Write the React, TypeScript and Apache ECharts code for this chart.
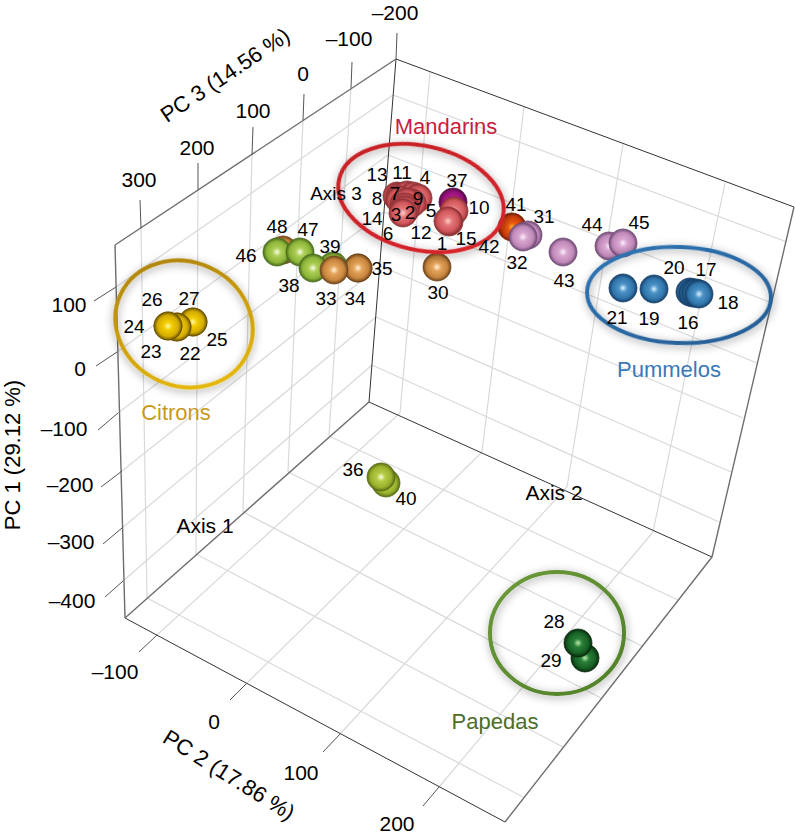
import React, { useEffect, useRef } from "react";
import * as echarts from "echarts";

const FONT = "Liberation Sans";

// ---- plane: x and y axes cover the 3D view's projection
const planeWidth = 795;
const planeHeight = 836;

// ---- samples, in draw order (back first)
const sampleIds = [37, 10, 15, 1, 13, 7, 11, 4, 9, 8, 14, 5, 12, 6, 2, 3, 41, 31, 32, 43, 44, 45, 21, 19, 20, 17, 16, 18, 35, 34, 48, 46, 47, 39, 38, 33, 30, 27, 25, 26, 22, 24, 23, 40, 36, 29, 28];
const sampleX = [453, 454, 449, 448, 397, 400, 407, 413, 418, 400, 404, 412, 407, 405, 405, 403, 512, 528, 523, 563, 609, 623, 623, 654, 690, 693, 696, 699, 358, 358, 283, 277, 300, 333, 313, 334, 437, 193, 193, 177, 177, 168, 168, 386, 381, 585, 578];
const sampleY = [202, 211, 222, 221, 196, 197, 195, 196, 198, 200, 204, 203, 202, 207, 210, 213, 227, 235, 237, 252, 246, 243, 288, 289, 292, 293, 293, 294, 268, 268, 250, 252, 252, 266, 268, 270, 267, 322, 322, 327, 327, 326, 326, 483, 477, 658, 643];
const sampleGroup = ["magenta", "mandarin", "mandarin", "mandarin", "mandarin", "mandarin", "mandarin", "mandarin", "mandarin", "mandarin", "mandarin", "mandarin", "mandarin", "mandarin", "mandarin", "mandarin", "red", "mauve", "mauve", "mauve", "mauve", "mauve", "blue", "blue", "blue", "blue", "blue", "blue", "orange", "orange", "orange", "green", "green", "green", "green", "orange", "orange", "yellow", "yellow", "yellow", "yellow", "yellow", "yellow", "lime", "lime", "dark", "dark"];

// ---- sample numbers, where they are printed
const numberTexts = ["13", "11", "4", "37", "7", "8", "9", "3", "2", "5", "10", "14", "6", "12", "1", "15", "42", "41", "31", "32", "30", "35", "39", "48", "47", "46", "38", "33", "34", "26", "27", "24", "23", "22", "25", "43", "44", "45", "20", "17", "18", "16", "19", "21", "28", "29", "36", "40"];
const numberX = [377, 402, 425, 457, 395, 377, 418, 396, 410, 431, 479, 372, 388, 421, 442, 466, 489, 516, 544, 517, 438, 382, 330, 277, 308, 246, 289, 326, 355, 152, 189, 134, 151, 190, 217, 564, 592, 639, 674, 706, 728, 688, 649, 617, 554, 551, 353, 406];
const numberY = [174, 172, 177, 180, 193, 198, 198, 214, 212, 210, 207, 218, 233, 232, 243, 238, 246, 204, 216, 262, 292, 268, 246, 226, 229, 255, 285, 298, 298, 299, 298, 326, 351, 353, 339, 280, 224, 222, 267, 269, 302, 322, 318, 317, 621, 660, 469, 498];

// ---- axis tick labels
const pc1Ticks = ["100", "0", "–100", "–200", "–300", "–400"];
const pc1TickX = [69, 80, 64, 70, 71, 72];
const pc1TickY = [304, 368, 428, 484, 541, 600];
const pc2Ticks = ["–100", "0", "100", "200"];
const pc2TickX = [115, 214, 301, 397];
const pc2TickY = [671, 721, 772, 823];
const pc3Ticks = ["300", "200", "100", "0", "–100", "–200"];
const pc3TickX = [139, 197, 253, 303, 349, 395];
const pc3TickY = [179, 147, 110, 73, 38, 12];

// ---- box corners and outline
const boxOutlineDark = [
  [396, 59, 794, 207], [505, 822, 125, 618], [396, 59, 369, 402], [369, 402, 712, 557],
];
const boxOutlineGrey = [
  [115, 245, 396, 59], [794, 207, 712, 557], [712, 557, 505, 822], [125, 618, 115, 245], [369, 402, 125, 618],
];
// ---- tick marks outside the box
const tickMarks = [
  [94, 301, 116, 287], [96, 366, 117, 352], [98, 430, 118, 413], [101, 487, 122, 471], [103, 544, 122, 528], [105, 597, 123, 581],
  [139, 652, 157, 635], [230, 700, 247, 683], [323, 752, 341, 733], [423, 806, 439, 787],
  [140, 200, 141, 228], [198, 163, 198, 190], [253, 127, 252, 155], [304, 94, 303, 120], [352, 62, 351, 88], [397, 33, 396, 59],
];
// ---- grid on the two walls and the floor
const gridLines = [
  // PC 3 on the left wall
  [141, 228, 147, 598], [198, 190, 196, 554], [252, 155, 243, 512], [303, 120, 288, 472], [351, 88, 329, 436],
  // PC 1 on the left wall
  [116, 287, 393, 95], [117, 352, 388, 155], [118, 413, 384, 212], [122, 471, 380, 266], [122, 528, 376, 317], [123, 581, 372, 365],
  // PC 1 on the right wall
  [393, 95, 787, 242], [388, 155, 772, 303], [384, 212, 757, 363], [380, 266, 743, 418], [376, 317, 731, 472], [372, 365, 719, 522],
  // PC 2 on the right wall
  [430, 72, 400, 413], [524, 107, 482, 452], [623, 144, 567, 487], [725, 183, 653, 532],
  // PC 2 on the floor
  [157, 635, 400, 413], [247, 683, 482, 452], [341, 733, 567, 487], [439, 787, 653, 532],
  // PC 3 on the floor
  [147, 598, 523, 797], [196, 554, 563, 747], [243, 512, 601, 698], [288, 472, 642, 646], [329, 436, 678, 600],
];

// ---- group ellipses: cx, cy, rx, ry, tilt in degrees
const groupNames = ["Mandarins", "Citrons", "Pummelos", "Papedas"];
const groupNameX = [446, 176, 669, 495];
const groupNameY = [126, 412, 369, 721];
const groupEllipses = [
  [421, 198, 84, 52, 13],
  [184, 324, 70, 62, 25],
  [679, 295, 92, 48, 2],
  [557, 633, 67, 61, 0],
];

const groupTextColors = ["#c8203c", "#c89a1a", "#3a78b8", "#4d6e2a"];
const ringColors = [
  ["#c41f26", "#d8262c"],
  ["#a87c10", "#eec208"],
  ["#2f76b4", "#265c92"],
  ["#6c9a3a", "#4f7f28"],
];

const ballPalette: Record<string, string[]> = {
  mandarin: ["#fbd0c8", "#e4777a", "#d0565b", "#8e3236"],
  magenta: ["#e050b0", "#b42090", "#940f78", "#4e0a40"],
  red: ["#ffb020", "#ee5a10", "#cc3c08", "#762004"],
  mauve: ["#fbf0fa", "#d8a6d0", "#bf88b8", "#6e4a74"],
  blue: ["#d8f2fc", "#4c92c6", "#2f74aa", "#163f68"],
  orange: ["#fff4dc", "#e4a45c", "#c6843c", "#6e441c"],
  green: ["#fbfce8", "#accf56", "#8cb438", "#466a1c"],
  lime: ["#fdfde2", "#b4cc44", "#98b02c", "#566c14"],
  yellow: ["#fffaa0", "#f2cc00", "#d4ac00", "#6e5600"],
  dark: ["#b8eca8", "#2a8038", "#166024", "#08280c"],
};

function ball(group: string) {
  const [a, b, c, d] = ballPalette[group];
  return {
    color: {
      type: "radial", x: 0.5, y: 0.5, r: 0.5,
      colorStops: [
        { offset: 0, color: a }, { offset: 0.3, color: b },
        { offset: 0.75, color: c }, { offset: 1, color: d },
      ],
    },
    borderColor: d,
    borderWidth: 0.8,
    opacity: 1,
  };
}

function label(text: string, x: number, y: number, fontSize: number, color = "#000", rotate = 0) {
  return {
    value: [x, y],
    itemStyle: { color: "transparent", opacity: 1 },
    label: { show: true, position: "inside", formatter: text, fontSize, color, rotate, opacity: 1, fontFamily: FONT, align: "center", verticalAlign: "middle" },
  };
}

function segmentSeries(rows: number[][], color: string, width: number, z: number) {
  return {
    type: "custom", coordinateSystem: "cartesian2d", silent: true, z,
    data: rows,
    encode: { x: [0, 2], y: [1, 3] },
    renderItem: (_: any, api: any) => {
      const p = api.coord([api.value(0), api.value(1)]);
      const q = api.coord([api.value(2), api.value(3)]);
      return { type: "line", shape: { x1: p[0], y1: p[1], x2: q[0], y2: q[1] }, style: { stroke: color, lineWidth: width, fill: null } };
    },
  };
}

export default function App() {
  const ref = useRef<HTMLDivElement>(null);
  useEffect(() => {
    document.body.style.margin = "0";
    const chart = echarts.init(ref.current!, undefined, { renderer: "svg" });
    const texts = [
      ...numberTexts.map((t, i) => label(t, numberX[i], numberY[i], 19)),
      ...pc1Ticks.map((t, i) => label(t, pc1TickX[i], pc1TickY[i], 21)),
      ...pc2Ticks.map((t, i) => label(t, pc2TickX[i], pc2TickY[i], 21)),
      ...pc3Ticks.map((t, i) => label(t, pc3TickX[i], pc3TickY[i], 21)),
      ...groupNames.map((t, i) => label(t, groupNameX[i], groupNameY[i], 22, groupTextColors[i])),
      label("Axis 1", 205, 525, 21), label("Axis 2", 554, 492, 21), label("Axis 3", 336, 193, 19),
      label("PC 1 (29.12 %)", 12, 455, 22, "#000", 90),
      label("PC 2 (17.86 %)", 229, 775, 22, "#000", -32),
      label("PC 3 (14.56 %)", 225, 75, 22, "#000", 34),
    ];
    chart.setOption({
      animation: false,
      backgroundColor: "#fff",
      tooltip: { show: false },
      grid: { left: 0, right: 0, top: 0, bottom: 0 },
      xAxis: { type: "value", min: 0, max: planeWidth, show: false },
      yAxis: { type: "value", min: 0, max: planeHeight, inverse: true, show: false },
      series: [
        segmentSeries(gridLines, "#d9d9d9", 1.2, 1),
        segmentSeries(boxOutlineDark, "#333", 1, 2),
        segmentSeries(boxOutlineGrey, "#6e6e6e", 1.4, 2),
        segmentSeries(tickMarks, "#555", 1, 2),
        {
          type: "scatter", z: 3, silent: true, symbolSize: 28,
          data: sampleIds.map((id, i) => ({ name: String(id), value: [sampleX[i], sampleY[i]], itemStyle: ball(sampleGroup[i]) })),
        },
        {
          type: "custom", coordinateSystem: "cartesian2d", silent: true, z: 4,
          data: groupEllipses,
          encode: { x: 0, y: 1 },
          renderItem: (p: any, api: any) => {
            const c = api.coord([api.value(0), api.value(1)]);
            const colors = ringColors[p.dataIndex];
            return {
              type: "ellipse",
              x: c[0], y: c[1],
              rotation: (-api.value(4) * Math.PI) / 180,
              shape: { cx: 0, cy: 0, rx: api.value(2), ry: api.value(3) },
              style: {
                fill: null, lineWidth: 4,
                stroke: new echarts.graphic.LinearGradient(0, 0, 1, 1, [{ offset: 0, color: colors[0] }, { offset: 1, color: colors[1] }]),
                shadowBlur: 8, shadowColor: "rgba(0,0,0,0.4)", shadowOffsetX: 1, shadowOffsetY: 2,
              },
            };
          },
        },
        { type: "scatter", z: 5, silent: true, symbolSize: 1, data: texts },
      ],
    });
    return () => chart.dispose();
  }, []);
  return <div ref={ref} style={{ position: "absolute", left: 0, top: 0, width: 795, height: 836 }} />;
}
